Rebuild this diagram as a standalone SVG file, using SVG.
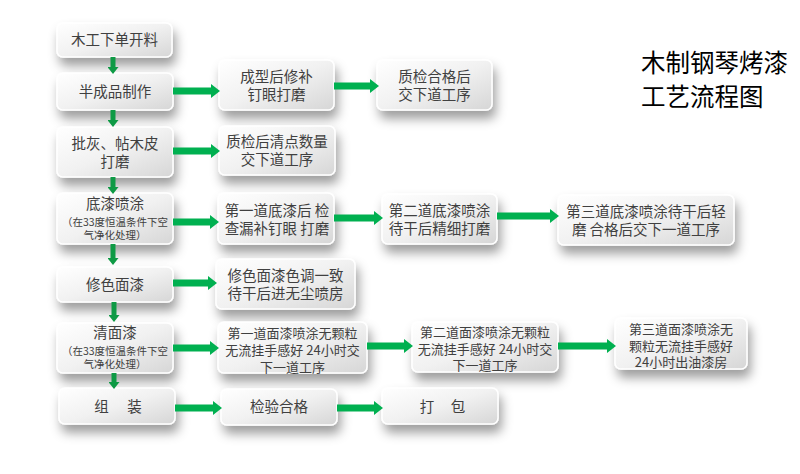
<svg xmlns="http://www.w3.org/2000/svg" width="800" height="474" viewBox="0 0 800 474">
<defs>
<linearGradient id="g" x1="0" y1="0" x2="1" y2="1">
<stop offset="0" stop-color="#ffffff"/>
<stop offset="0.5" stop-color="#f1f1f1"/>
<stop offset="1" stop-color="#d6d6d6"/>
</linearGradient>
<filter id="sh" x="-30%" y="-40%" width="160%" height="200%">
<feGaussianBlur in="SourceAlpha" stdDeviation="5.5"/>
<feOffset dx="3" dy="8" result="b"/>
<feFlood flood-color="#000" flood-opacity="0.38"/>
<feComposite in2="b" operator="in"/>
<feMerge><feMergeNode/><feMergeNode in="SourceGraphic"/></feMerge>
</filter>
<marker id="ah" markerUnits="userSpaceOnUse" markerWidth="9" markerHeight="14" viewBox="0 0 9 14" refX="0" refY="7" orient="auto">
<path d="M0,0 L9,7 L0,14 Z" fill="#00B050"/>
</marker>
<marker id="av" markerUnits="userSpaceOnUse" markerWidth="7" markerHeight="11" viewBox="0 0 7 11" refX="0" refY="5.5" orient="auto">
<path d="M0,0 L7,5.5 L0,11 Z" fill="#0E9A45"/>
</marker>
</defs>
<style>
.box{fill:url(#g);stroke:#ffffff;stroke-width:1.5;filter:url(#sh)}
text{font-family:"Noto Sans CJK SC","Noto Sans",sans-serif;fill:#404040;text-anchor:middle}
.t{font-size:14.5px}
.s{font-size:10.5px}
.m{font-size:13px}
.title{font-size:24.5px;fill:#000;text-anchor:start}
.h{stroke:#00B050;stroke-width:7;fill:none;marker-end:url(#ah)}
.v{stroke:#0E9A45;stroke-width:5;fill:none;marker-end:url(#av)}
</style>
<rect width="800" height="474" fill="#ffffff"/>

<g id="n1"><rect class="box" x="57" y="23" width="115" height="34" rx="6"/><text class="t" x="114.5" y="45">木工下单开料</text></g>
<g id="n2"><rect class="box" x="57" y="73" width="116" height="37" rx="6"/><text class="t" x="115" y="96.5">半成品制作</text></g>
<g id="n3"><rect class="box" x="57" y="127" width="116" height="50" rx="6"/><text class="t" x="115" y="149">批灰、帖木皮<tspan x="115" dy="18">打磨</tspan></text></g>
<g id="n4"><rect class="box" x="57" y="193" width="116" height="51" rx="6"/><text class="t" x="115" y="209">底漆喷涂<tspan class="s" x="115" dy="17">（在33度恒温条件下空</tspan><tspan class="s" x="115" dy="13">气净化处理）</tspan></text></g>
<g id="n5"><rect class="box" x="57" y="267" width="116" height="35" rx="6"/><text class="t" x="115" y="290">修色面漆</text></g>
<g id="n6"><rect class="box" x="57" y="323" width="116" height="50" rx="6"/><text class="t" x="115" y="338">清面漆<tspan class="s" x="115" dy="17">（在33度恒温条件下空</tspan><tspan class="s" x="115" dy="13">气净化处理）</tspan></text></g>
<g id="n7"><rect class="box" x="59" y="388" width="116" height="36" rx="6"/><text class="t" x="119" y="412" style="letter-spacing:2px">组　装</text></g>

<g id="n8"><rect class="box" x="219" y="60" width="115" height="50" rx="6"/><text class="t" x="276.5" y="82">成型后修补<tspan x="276.5" dy="18">钉眼打磨</tspan></text></g>
<g id="n9"><rect class="box" x="377" y="60" width="115" height="50" rx="6"/><text class="t" x="434.5" y="82">质检合格后<tspan x="434.5" dy="18">交下道工序</tspan></text></g>
<g id="n10"><rect class="box" x="219" y="126" width="116" height="49" rx="6"/><text class="t" x="277" y="147">质检后清点数量<tspan x="277" dy="18">交下道工序</tspan></text></g>
<g id="n11"><rect class="box" x="218" y="193" width="116" height="51" rx="6"/><text class="t" x="277" y="216">第一道底漆后 检<tspan x="277" dy="18">查漏补钉眼 打磨</tspan></text></g>
<g id="n12"><rect class="box" x="382" y="194" width="115" height="50" rx="6"/><text class="t" x="439.5" y="216">第二道底漆喷涂<tspan x="439.5" dy="18">待干后精细打磨</tspan></text></g>
<g id="n13"><rect class="box" x="558" y="195" width="176" height="50" rx="6"/><text class="t" x="646" y="217">第三道底漆喷涂待干后轻<tspan x="646" dy="18">磨 合格后交下一道工序</tspan></text></g>
<g id="n14"><rect class="box" x="216" y="259" width="139" height="50" rx="6"/><text class="t" x="285.5" y="281">修色面漆色调一致<tspan x="285.5" dy="18">待干后进无尘喷房</tspan></text></g>
<g id="n15"><rect class="box" x="218" y="322" width="149" height="51" rx="6"/><text class="m" x="292.5" y="338">第一道面漆喷涂无颗粒<tspan x="292.5" dy="17">无流挂手感好 24小时交</tspan><tspan x="292.5" dy="17">下一道工序</tspan></text></g>
<g id="n16"><rect class="box" x="412" y="322" width="146" height="50" rx="6"/><text class="m" x="485" y="337">第二道面漆喷涂无颗粒<tspan x="485" dy="16.5">无流挂手感好 24小时交</tspan><tspan x="485" dy="16.5">下一道工序</tspan></text></g>
<g id="n17"><rect class="box" x="615" y="318" width="132" height="51" rx="6"/><text class="m" x="681" y="334">第三道面漆喷涂无<tspan x="681" dy="16.5">颗粒无流挂手感好</tspan><tspan x="681" dy="16.5">24小时出油漆房</tspan></text></g>
<g id="n18"><rect class="box" x="221" y="389" width="116" height="36" rx="6"/><text class="t" x="279" y="412">检验合格</text></g>
<g id="n19"><rect class="box" x="382" y="388" width="116" height="36" rx="6"/><text class="t" x="443" y="412" style="letter-spacing:1px">打　包</text></g>

<g id="title"><text class="title" x="641" y="71.5">木制钢琴烤漆<tspan x="641" dy="34.5">工艺流程图</tspan></text></g>

<g id="connectors">
<line class="v" x1="113" y1="57" x2="113" y2="67"/>
<line class="v" x1="113" y1="110" x2="113" y2="120"/>
<line class="v" x1="113" y1="177" x2="113" y2="187"/>
<line class="v" x1="113" y1="244" x2="113" y2="258"/>
<line class="v" x1="114" y1="302" x2="114" y2="315"/>
<line class="v" x1="114" y1="373" x2="114" y2="382"/>
<line class="h" x1="173" y1="91" x2="211" y2="91"/>
<line class="h" x1="334" y1="86" x2="370" y2="86"/>
<line class="h" x1="173" y1="151" x2="211" y2="151"/>
<line class="h" x1="173" y1="222" x2="210" y2="222"/>
<line class="h" x1="334" y1="218" x2="374" y2="218"/>
<line class="h" x1="497" y1="216" x2="550" y2="216"/>
<line class="h" x1="173" y1="283" x2="208" y2="283"/>
<line class="h" x1="173" y1="348" x2="210" y2="348"/>
<line class="h" x1="367" y1="346" x2="404" y2="346"/>
<line class="h" x1="558" y1="346" x2="607" y2="346"/>
<line class="h" x1="175" y1="408" x2="213" y2="408"/>
<line class="h" x1="337" y1="408" x2="374" y2="408"/>
</g>
</svg>
